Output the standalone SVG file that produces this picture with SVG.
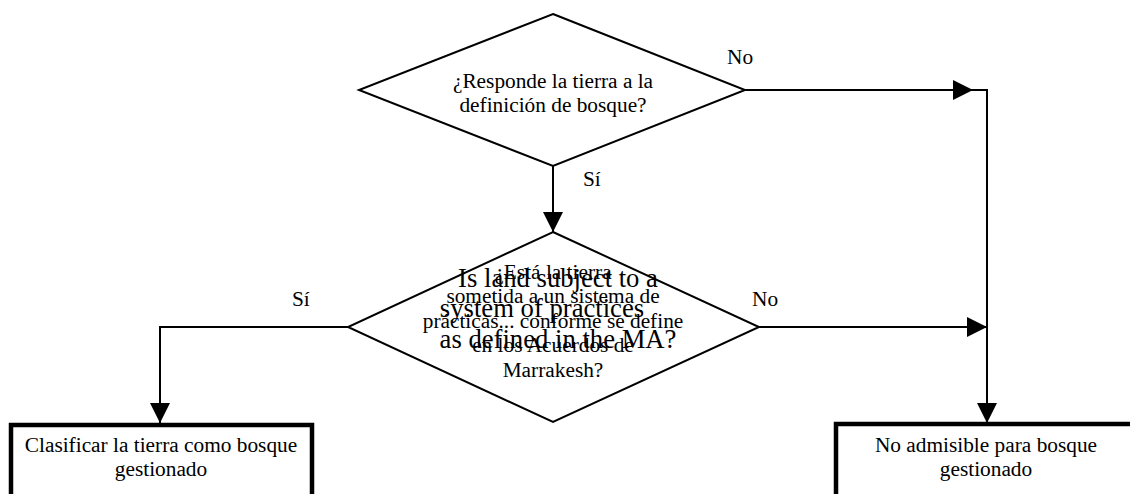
<svg xmlns="http://www.w3.org/2000/svg" width="1130" height="494" viewBox="0 0 1130 494">
<style>
  .shape { fill: #fff; stroke: #000; stroke-width: 2; stroke-linejoin: miter; }
  .box { fill: #fff; stroke: #000; stroke-width: 4.5; }
  .conn { fill: none; stroke: #000; stroke-width: 2; }
  .t { font-family: "Liberation Serif", "Times New Roman", serif; font-size: 21.33px; fill: #000; text-anchor: middle; }
  .lbl { font-family: "Liberation Serif", "Times New Roman", serif; font-size: 21.33px; fill: #000; }
  .en { font-family: "Liberation Serif", "Times New Roman", serif; font-size: 26.67px; fill: #000; text-anchor: middle; }
</style>
<defs>
  <marker id="arr" viewBox="0 0 20 20" refX="20" refY="10" markerWidth="20" markerHeight="20" orient="auto" markerUnits="userSpaceOnUse">
    <path d="M0,0 L20,10 L0,20 z" fill="#000"/>
  </marker>
</defs>
<rect width="1130" height="494" fill="#fff"/>

<g id="connectors">
  <path class="conn" d="M553,166 V232" marker-end="url(#arr)"/>
  <path class="conn" d="M745,90 H973" marker-end="url(#arr)"/>
  <path class="conn" d="M973,90 H987 V423" marker-end="url(#arr)"/>
  <path class="conn" d="M759,327 H987" marker-end="url(#arr)"/>
  <path class="conn" d="M348,327 H160 V423" marker-end="url(#arr)"/>
  <text class="lbl" x="727" y="64">No</text>
  <text class="lbl" x="583" y="186">Sí</text>
  <text class="lbl" x="752" y="306">No</text>
  <text class="lbl" x="292" y="306">Sí</text>
</g>

<g id="decision1">
  <polygon class="shape" points="553,14 745,90 553,166 359,90"/>
  <text class="t" x="553" y="88">¿Responde la tierra a la</text>
  <text class="t" x="553" y="112">definición de bosque?</text>
</g>

<g id="decision2">
  <polygon class="shape" points="553,232 759,327 553,422 348,327"/>
  <text class="t" x="553" y="279">¿Está la tierra</text>
  <text class="t" x="553" y="303">sometida a un sistema de</text>
  <text class="t" x="553" y="328">prácticas... conforme se define</text>
  <text class="t" x="553" y="352">en los Acuerdos de</text>
  <text class="t" x="553" y="377">Marrakesh?</text>
  <text class="en" x="558" y="287">Is land subject to a</text>
  <text class="en" x="542" y="317">system of practices</text>
  <text class="en" x="558" y="348">as defined in the MA?</text>
</g>

<g id="box-managed">
  <rect class="box" x="11" y="425" width="301" height="90"/>
  <text class="t" x="161" y="452">Clasificar la tierra como bosque</text>
  <text class="t" x="161" y="476">gestionado</text>
</g>

<g id="box-not-eligible">
  <rect class="box" x="836" y="424" width="302" height="90"/>
  <text class="t" x="986" y="452">No admisible para bosque</text>
  <text class="t" x="986" y="476">gestionado</text>
</g>
</svg>
